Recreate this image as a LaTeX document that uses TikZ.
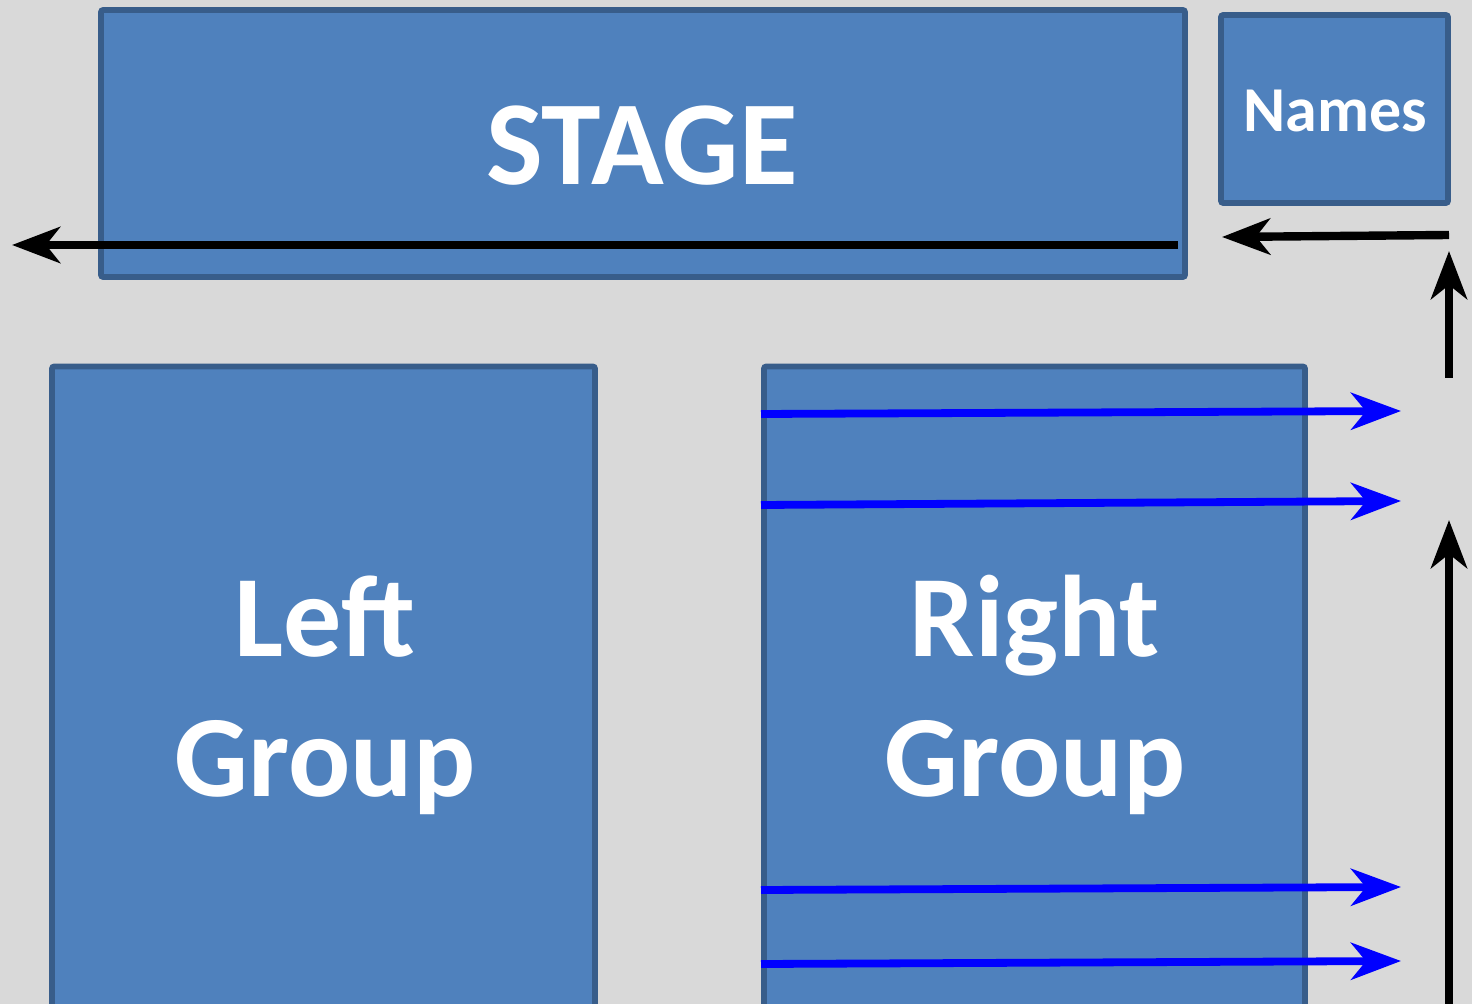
\documentclass[tikz,border=0pt]{standalone}
\usepackage{fontspec}
\setmainfont{Carlito}
\usetikzlibrary{arrows.meta}
\definecolor{bgcol}{HTML}{D9D9D9}
\definecolor{boxfill}{HTML}{4F81BD}
\definecolor{boxline}{HTML}{385D8A}
\begin{document}
\begin{tikzpicture}[x=0.5pt,y=-0.5pt,
  box/.style={draw=boxline,fill=boxfill,line width=2.8pt,rounded corners=1pt,inner sep=0pt,outer sep=0pt},
  lbl/.style={text=white,font=\bfseries,anchor=base,inner sep=0pt},
  blk/.style={draw=black,line width=4.2pt,-{Stealth[length=24pt,width=18pt,inset=7pt]}},
  blu/.style={draw=blue,line width=3.9pt,-{Stealth[length=25pt,width=18.5pt,inset=7.5pt]}}]
\useasboundingbox (0,0) rectangle (1472,1004);
\fill[bgcol] (0,0) rectangle (1472,1004);
\clip (0,0) rectangle (1472,1004);
% boxes
\node[box,minimum width=542pt,minimum height=133.5pt] (stage) at (643,143.5) {};
\node[box,minimum width=113.5pt,minimum height=94pt] (names) at (1334.5,109) {};
\node[box,minimum width=271.5pt,minimum height=325pt] (left) at (323.5,691.5) {};
\node[box,minimum width=270.5pt,minimum height=325pt] (right) at (1034.5,691.5) {};
% labels
\node[lbl,font=\fontsize{60pt}{72pt}\selectfont\bfseries] (stagetxt) at (642,185) {STAGE};
\node[lbl,font=\fontsize{32pt}{38pt}\selectfont\bfseries] (namestxt) at (1335,132) {Names};
\node[lbl,font=\fontsize{58pt}{70pt}\selectfont\bfseries] (lefta) at (325,657) {Left};
\node[lbl,font=\fontsize{58pt}{70pt}\selectfont\bfseries] (leftb) at (325,797) {Group};
\node[lbl,font=\fontsize{58pt}{70pt}\selectfont\bfseries] (righta) at (1035,657) {Right};
\node[lbl,font=\fontsize{58pt}{70pt}\selectfont\bfseries] (rightb) at (1035,797) {Group};
% arrow end points
\coordinate (s1) at (1178,245);
\coordinate (e1) at (12,245);
\coordinate (s2) at (1449,235);
\coordinate (e2) at (1222,237);
\coordinate (s3) at (1449,378);
\coordinate (e3) at (1449,251);
\coordinate (s4) at (1449,1010);
\coordinate (e4) at (1449,520);
\coordinate (b1s) at (761,414);
\coordinate (b1e) at (1401,411);
\coordinate (b2s) at (761,505);
\coordinate (b2e) at (1401,501);
\coordinate (b3s) at (761,890);
\coordinate (b3e) at (1401,887);
\coordinate (b4s) at (761,964);
\coordinate (b4e) at (1401,961);
% arrows
\draw[blk] (s1) -- (e1);
\draw[blk] (s2) -- (e2);
\draw[blk] (s3) -- (e3);
\draw[blk] (s4) -- (e4);
\draw[blu] (b1s) -- (b1e);
\draw[blu] (b2s) -- (b2e);
\draw[blu] (b3s) -- (b3e);
\draw[blu] (b4s) -- (b4e);
\end{tikzpicture}
\end{document}
